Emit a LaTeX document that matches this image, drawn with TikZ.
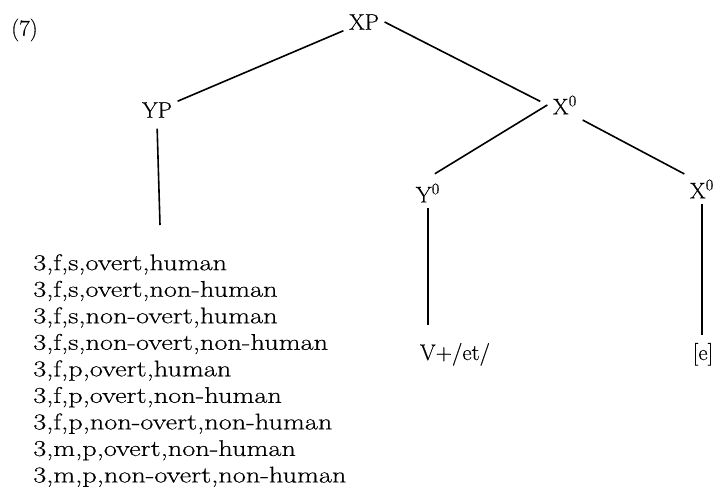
\documentclass[tikz,border=0pt]{standalone}
\usepackage{fontspec}
\setmainfont{Latin Modern Roman}[FakeBold=0.4]
\newfontfamily\featfont{Latin Modern Roman}[FakeStretch=1.25,FakeBold=0.4]
\begin{document}
\begin{tikzpicture}[x=0.75pt,y=-0.75pt,
    font=\fontsize{17}{19.9}\selectfont,
    lbl/.style={inner sep=4pt},
    branch/.style={line width=1.2pt}]
    \useasboundingbox (0,0) rectangle (723,491);
    \node[anchor=west,inner sep=0pt] (ex) at (11,30) {(7)};
    \node[lbl] (xp) at (364,22) {XP};
    \node[lbl] (yp) at (157,110) {YP};
    \node[lbl] (xbar) at (565,105) {X\textsuperscript{0}};
    \node[lbl] (y0) at (428,193) {Y\textsuperscript{0}};
    \node[lbl] (x0) at (702,189) {X\textsuperscript{0}};
    \node[lbl,anchor=base] (vet) at (455,360) {V+/et/};
    \node[lbl,anchor=base] (enull) at (703,360) {[e]};
    \node[anchor=north west,inner sep=0pt,align=left,
        font=\featfont\fontsize{17}{19.9}\selectfont] (feats) at (33,254)
        {3,f,s,overt,human\\
         3,f,s,overt,non-human\\
         3,f,s,non-overt,human\\
         3,f,s,non-overt,non-human\\
         3,f,p,overt,human\\
         3,f,p,overt,non-human\\
         3,f,p,non-overt,non-human\\
         3,m,p,overt,non-human\\
         3,m,p,non-overt,non-human};
    \coordinate (ypfoot) at (160,225);
    % branches
    \draw[branch] (xp) -- (yp);
    \draw[branch,shorten >=6pt] (xp.east) -- (xbar.west);
    \draw[branch,shorten >=6pt] (xbar.west) -- (y0.north);
    \draw[branch] (xbar.south east) -- (x0.north west);
    \draw[branch,shorten <=4pt] (yp.south) -- (ypfoot);
    \draw[branch,shorten >=9pt] (y0.south) -- (y0.south |- vet.north);
    \draw[branch,shorten >=2pt] (x0.south) -- (x0.south |- enull.north);
\end{tikzpicture}
\end{document}
